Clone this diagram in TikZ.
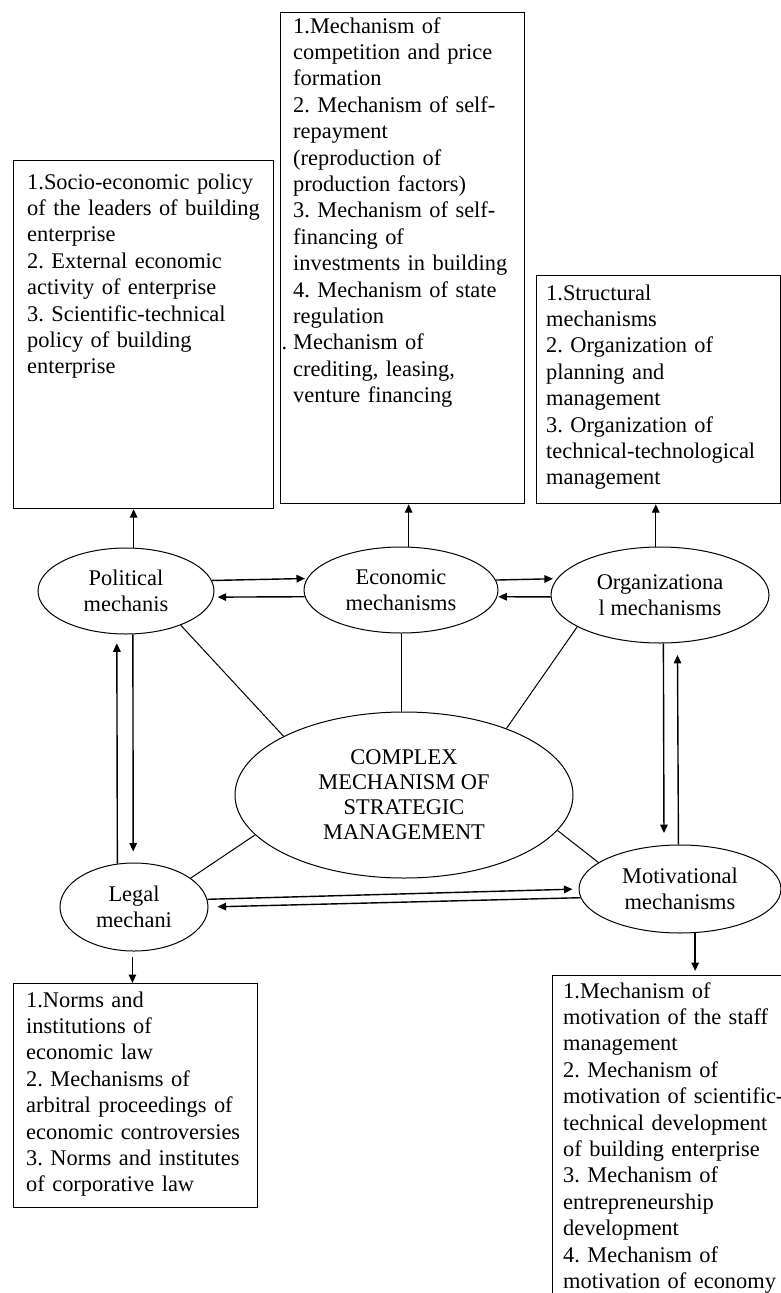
\documentclass[tikz,border=0pt]{standalone}
\usepackage{fontspec}
\setmainfont{Liberation Serif}
\usetikzlibrary{shapes.geometric,arrows.meta,calc}
\begin{document}
\frenchspacing
\begin{tikzpicture}[x=1pt,y=-1pt,
  infobox/.style={draw, line width=1.2pt, inner sep=0, anchor=north west},
  boxtext/.style={anchor=base west, inner sep=0, text width=300pt, align=left, font=\fontsize{22.4}{26.4}\selectfont},
  mech/.style={draw, ellipse, line width=1pt, inner sep=0, align=center, font=\fontsize{22.4}{26}\selectfont},
  arr/.style={line width=1.4pt, -{Triangle[length=8.5pt,width=7.5pt]}},
  link/.style={line width=1pt},
]
\fill[white] (0,0) rectangle (781,1293);
\useasboundingbox (0,0) rectangle (781,1293);
\clip (0,0) rectangle (781,1293);

% boxes
\node[infobox, minimum width=260pt, minimum height=348pt] (pb) at (13,160) {};
\node[infobox, minimum width=244pt, minimum height=491pt] (eb) at (280,12) {};
\node[infobox, minimum width=244pt, minimum height=228pt] (ob) at (536,275) {};
\node[infobox, minimum width=244pt, minimum height=224pt] (lb) at (13,983) {};
\node[infobox, minimum width=238pt, minimum height=335pt] (mb) at (552,975) {};

% box texts
\node[boxtext] (pbt) at (27,189) {1.Socio-economic policy\\of the leaders of building\\enterprise\\2. External economic\\activity of enterprise\\3. Scientific-technical\\policy of building\\enterprise};
\node[boxtext] (ebt) at (293,33) {1.Mechanism of\\competition and price\\formation\\2. Mechanism of self-\\repayment\\(reproduction of\\production factors)\\3. Mechanism of self-\\financing of\\investments in building\\4. Mechanism of state\\regulation\\\leavevmode\llap{.\hspace{6pt}}Mechanism of\\crediting, leasing,\\venture financing};
\node[boxtext] (obt) at (546,300) {1.Structural\\mechanisms\\2. Organization of\\planning and\\management\\3. Organization of\\technical-technological\\management};
\node[boxtext] (lbt) at (26,1007) {1.Norms and\\institutions of\\economic law\\2. Mechanisms of\\arbitral proceedings of\\economic controversies\\3. Norms and institutes\\of corporative law};
\node[boxtext] (mbt) at (563,998) {1.Mechanism of\\motivation of the staff\\management\\2. Mechanism of\\motivation of scientific-\\technical development\\of building enterprise\\3. Mechanism of\\entrepreneurship\\development\\4. Mechanism of\\motivation of economy};

% ellipses
\node[mech, minimum width=176pt, minimum height=86pt] (pol) at (126,591) {Political\\mechanis};
\node[mech, minimum width=194pt, minimum height=86pt] (eco) at (401,590) {Economic\\mechanisms};
\node[mech, minimum width=218pt, minimum height=96pt] (org) at (660,595) {Organizationa\\l mechanisms};
\node[mech, minimum width=338pt, minimum height=166pt, font=\fontsize{22.4}{25}\selectfont] (cpx) at (404,795) {COMPLEX\\MECHANISM OF\\STRATEGIC\\MANAGEMENT};
\node[mech, minimum width=148pt, minimum height=88pt] (leg) at (134,907) {Legal\\mechani};
\node[mech, minimum width=202pt, minimum height=88pt] (mot) at (680,889) {Motivational\\mechanisms};

% arrows to boxes
\draw[arr] (pol.80.7) -- (pol.80.7 |- pb.south);
\draw[arr] (eco.80.7) -- (eco.80.7 |- eb.south);
\draw[arr] (org.95.9) -- (org.95.9 |- ob.south);
\draw[arr, shorten <=5pt] (leg.268.7) -- (leg.268.7 |- lb.north);
\draw[arr, shorten >=4pt] (mot.289) -- (mot.289 |- mb.north);

% horizontal pairs
\draw[arr, shorten >=2pt] (pol.7.4) -- (eco.173.9);
\draw[arr, shorten >=4pt] (eco.184.8) -- (pol.-4.6);
\draw[arr, shorten >=4pt] (eco.6.05) -- (org.171.75);
\draw[arr, shorten >=1pt] (org.181.6) -- (eco.-4.8);
\draw[arr, shorten >=6pt] (leg.6.3) -- (mot.180);
\draw[arr, shorten >=9pt] (mot.185.8) -- (leg.0);

% vertical pairs
\draw[arr, shorten >=9pt] (leg.111.7) -- (pol.258.1);
\draw[arr, shorten >=11pt] (pol.279.3) -- (leg.91.3);
\draw[arr, shorten >=12pt] (org.274.8) -- (mot.110.2);
\draw[arr, shorten >=12pt] (mot.92.6) -- (org.290.8);

% links to the centre
\draw[link] (pol.-32) -- (cpx.154);
\draw[link] (eco.south) -- (eco.south |- cpx.north);
\draw[link] (org.201.6) -- (cpx.33.6);
\draw[link] (leg.27.4) -- (cpx.195.7);
\draw[link] (mot.162.4) -- (cpx.-13.1);
\end{tikzpicture}
\end{document}
